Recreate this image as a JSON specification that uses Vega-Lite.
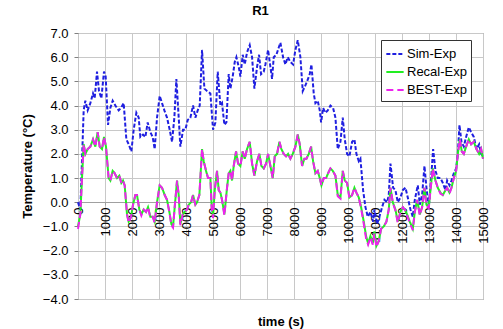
{
"$schema": "https://vega.github.io/schema/vega-lite/v6.json",
"width": 405,
"height": 266,
"autosize": {"type": "none"},
"padding": {"left": 78, "top": 33, "right": 20, "bottom": 30},
"background": "white",
"config": {
  "font": "Liberation Sans",
  "view": {"stroke": "#808080", "strokeWidth": 1},
  "axis": {"labelFont": "Liberation Sans", "titleFont": "Liberation Sans", "labelColor": "#000", "titleColor": "#000", "gridColor": "#c8c8c8", "gridWidth": 1}
},
"title": {"text": "R1", "fontSize": 13, "fontWeight": "bold", "font": "Liberation Sans", "color": "#000", "dx": -20, "offset": 9},
"datasets": {
"sim": [
{"t":0,"v":0.0},{"t":86,"v":-0.3},{"t":210,"v":3.8},{"t":272,"v":4.2},{"t":358,"v":3.8},{"t":457,"v":4.1},{"t":556,"v":4.5},{"t":618,"v":4.3},{"t":704,"v":5.4},{"t":778,"v":4.6},{"t":865,"v":4.3},{"t":963,"v":5.4},{"t":1025,"v":5.2},{"t":1112,"v":3.2},{"t":1198,"v":3.9},{"t":1284,"v":4.2},{"t":1383,"v":4.0},{"t":1507,"v":3.8},{"t":1593,"v":3.9},{"t":1692,"v":4.1},{"t":1791,"v":2.6},{"t":1877,"v":2.4},{"t":1976,"v":2.1},{"t":2062,"v":3.0},{"t":2161,"v":3.7},{"t":2248,"v":3.5},{"t":2309,"v":2.7},{"t":2408,"v":2.8},{"t":2495,"v":2.7},{"t":2581,"v":3.3},{"t":2680,"v":2.9},{"t":2766,"v":2.7},{"t":2840,"v":2.2},{"t":2927,"v":3.5},{"t":3026,"v":4.4},{"t":3112,"v":4.1},{"t":3199,"v":3.8},{"t":3297,"v":3.5},{"t":3396,"v":3.0},{"t":3483,"v":2.5},{"t":3569,"v":3.5},{"t":3643,"v":5.1},{"t":3730,"v":3.5},{"t":3791,"v":2.3},{"t":3890,"v":3.0},{"t":3977,"v":3.0},{"t":4063,"v":3.4},{"t":4162,"v":3.5},{"t":4261,"v":4.0},{"t":4347,"v":3.5},{"t":4434,"v":3.8},{"t":4508,"v":4.0},{"t":4594,"v":6.3},{"t":4681,"v":4.7},{"t":4780,"v":4.6},{"t":4903,"v":4.5},{"t":5002,"v":3.0},{"t":5088,"v":3.3},{"t":5175,"v":5.4},{"t":5273,"v":4.0},{"t":5335,"v":4.1},{"t":5422,"v":3.2},{"t":5496,"v":3.3},{"t":5582,"v":5.3},{"t":5644,"v":4.7},{"t":5730,"v":5.2},{"t":5805,"v":5.8},{"t":5866,"v":6.0},{"t":5953,"v":5.6},{"t":6014,"v":5.2},{"t":6101,"v":6.1},{"t":6175,"v":5.7},{"t":6261,"v":6.2},{"t":6360,"v":6.5},{"t":6447,"v":6.0},{"t":6533,"v":4.7},{"t":6632,"v":5.6},{"t":6706,"v":6.1},{"t":6780,"v":5.3},{"t":6879,"v":5.4},{"t":6941,"v":5.7},{"t":7040,"v":6.3},{"t":7126,"v":5.6},{"t":7188,"v":5.1},{"t":7249,"v":6.0},{"t":7348,"v":6.1},{"t":7435,"v":6.4},{"t":7496,"v":6.6},{"t":7595,"v":6.0},{"t":7682,"v":5.7},{"t":7768,"v":6.0},{"t":7867,"v":5.8},{"t":7966,"v":5.7},{"t":8052,"v":6.3},{"t":8139,"v":6.7},{"t":8237,"v":6.0},{"t":8324,"v":4.6},{"t":8410,"v":4.8},{"t":8484,"v":5.0},{"t":8583,"v":5.3},{"t":8645,"v":5.7},{"t":8731,"v":4.5},{"t":8793,"v":4.1},{"t":8879,"v":4.2},{"t":8954,"v":3.8},{"t":9003,"v":3.3},{"t":9077,"v":3.9},{"t":9164,"v":3.7},{"t":9250,"v":3.8},{"t":9349,"v":4.0},{"t":9448,"v":3.9},{"t":9534,"v":3.5},{"t":9621,"v":2.2},{"t":9720,"v":2.5},{"t":9806,"v":3.5},{"t":9880,"v":2.6},{"t":9966,"v":2.0},{"t":10053,"v":1.9},{"t":10152,"v":2.5},{"t":10238,"v":2.6},{"t":10312,"v":2.0},{"t":10399,"v":1.7},{"t":10460,"v":1.8},{"t":10559,"v":0.5},{"t":10646,"v":-0.2},{"t":10732,"v":-0.6},{"t":10831,"v":-0.4},{"t":10930,"v":-0.8},{"t":10979,"v":-0.3},{"t":11078,"v":-0.9},{"t":11164,"v":-0.6},{"t":11263,"v":-0.2},{"t":11350,"v":0.1},{"t":11449,"v":0.0},{"t":11510,"v":0.3},{"t":11572,"v":1.6},{"t":11671,"v":0.6},{"t":11757,"v":0.5},{"t":11844,"v":0.0},{"t":11942,"v":0.2},{"t":12029,"v":0.5},{"t":12128,"v":0.6},{"t":12214,"v":0.2},{"t":12313,"v":-0.3},{"t":12399,"v":-0.6},{"t":12474,"v":0.1},{"t":12585,"v":0.7},{"t":12659,"v":-0.1},{"t":12745,"v":0.3},{"t":12832,"v":1.5},{"t":12906,"v":0.6},{"t":12992,"v":-0.2},{"t":13079,"v":1.0},{"t":13153,"v":2.2},{"t":13239,"v":1.3},{"t":13326,"v":1.0},{"t":13425,"v":1.0},{"t":13511,"v":0.8},{"t":13610,"v":0.5},{"t":13672,"v":0.9},{"t":13758,"v":0.7},{"t":13832,"v":0.9},{"t":13919,"v":1.2},{"t":14005,"v":1.4},{"t":14067,"v":2.0},{"t":14128,"v":3.2},{"t":14202,"v":2.5},{"t":14289,"v":2.3},{"t":14375,"v":2.7},{"t":14474,"v":3.1},{"t":14560,"v":2.9},{"t":14659,"v":2.7},{"t":14758,"v":2.2},{"t":14857,"v":2.4},{"t":14931,"v":2.0},{"t":15000,"v":1.9}
],
"recal": [
{"t":0,"v":-1.0},{"t":86,"v":-0.5},{"t":148,"v":1.0},{"t":210,"v":2.4},{"t":272,"v":2.0},{"t":358,"v":2.2},{"t":457,"v":2.3},{"t":556,"v":2.6},{"t":642,"v":2.3},{"t":729,"v":2.9},{"t":803,"v":2.3},{"t":889,"v":2.2},{"t":963,"v":2.7},{"t":1037,"v":2.3},{"t":1136,"v":1.0},{"t":1198,"v":0.9},{"t":1284,"v":1.3},{"t":1359,"v":1.2},{"t":1445,"v":1.0},{"t":1531,"v":1.1},{"t":1606,"v":0.8},{"t":1667,"v":0.9},{"t":1729,"v":0.7},{"t":1815,"v":-0.5},{"t":1877,"v":-0.8},{"t":1964,"v":-0.6},{"t":2038,"v":-0.1},{"t":2124,"v":0.3},{"t":2186,"v":0.3},{"t":2272,"v":-0.3},{"t":2347,"v":-0.5},{"t":2433,"v":-0.3},{"t":2519,"v":-0.4},{"t":2594,"v":-0.2},{"t":2680,"v":-0.6},{"t":2766,"v":-0.6},{"t":2840,"v":-0.8},{"t":2927,"v":0.0},{"t":3026,"v":0.7},{"t":3112,"v":0.6},{"t":3211,"v":0.3},{"t":3297,"v":0.1},{"t":3384,"v":-0.4},{"t":3458,"v":-0.9},{"t":3520,"v":-1.0},{"t":3582,"v":-0.2},{"t":3668,"v":0.9},{"t":3730,"v":0.3},{"t":3791,"v":-0.9},{"t":3878,"v":-0.5},{"t":3952,"v":-0.4},{"t":4038,"v":-0.3},{"t":4100,"v":-0.1},{"t":4187,"v":0.0},{"t":4261,"v":0.3},{"t":4347,"v":-0.1},{"t":4409,"v":0.0},{"t":4495,"v":0.3},{"t":4594,"v":2.2},{"t":4656,"v":1.7},{"t":4742,"v":1.3},{"t":4817,"v":1.0},{"t":4903,"v":1.0},{"t":4952,"v":-0.2},{"t":5002,"v":-0.6},{"t":5064,"v":0.5},{"t":5150,"v":1.3},{"t":5212,"v":0.5},{"t":5273,"v":0.4},{"t":5335,"v":0.1},{"t":5422,"v":-0.5},{"t":5520,"v":0.6},{"t":5582,"v":1.2},{"t":5644,"v":1.3},{"t":5706,"v":0.9},{"t":5767,"v":1.5},{"t":5854,"v":2.1},{"t":5928,"v":1.6},{"t":6014,"v":1.5},{"t":6101,"v":2.1},{"t":6175,"v":1.8},{"t":6261,"v":2.2},{"t":6360,"v":2.5},{"t":6447,"v":1.6},{"t":6533,"v":1.1},{"t":6632,"v":1.7},{"t":6718,"v":2.0},{"t":6793,"v":1.5},{"t":6879,"v":1.4},{"t":6965,"v":1.6},{"t":7040,"v":2.0},{"t":7126,"v":1.5},{"t":7212,"v":1.0},{"t":7287,"v":1.9},{"t":7373,"v":2.0},{"t":7459,"v":2.5},{"t":7534,"v":2.2},{"t":7620,"v":2.0},{"t":7706,"v":1.9},{"t":7781,"v":2.0},{"t":7867,"v":1.8},{"t":7953,"v":2.0},{"t":8052,"v":2.3},{"t":8139,"v":2.8},{"t":8213,"v":2.4},{"t":8299,"v":1.5},{"t":8386,"v":1.8},{"t":8460,"v":1.8},{"t":8546,"v":2.0},{"t":8633,"v":2.3},{"t":8707,"v":1.7},{"t":8793,"v":1.2},{"t":8879,"v":1.3},{"t":8954,"v":1.0},{"t":9016,"v":0.7},{"t":9102,"v":1.0},{"t":9188,"v":1.0},{"t":9263,"v":1.2},{"t":9349,"v":1.4},{"t":9435,"v":1.3},{"t":9534,"v":1.1},{"t":9621,"v":0.3},{"t":9720,"v":0.2},{"t":9806,"v":1.3},{"t":9880,"v":0.9},{"t":9966,"v":0.8},{"t":10053,"v":0.2},{"t":10152,"v":0.3},{"t":10238,"v":0.6},{"t":10312,"v":0.4},{"t":10399,"v":0.2},{"t":10485,"v":-0.2},{"t":10584,"v":-0.8},{"t":10670,"v":-1.4},{"t":10745,"v":-1.7},{"t":10831,"v":-1.4},{"t":10917,"v":-1.7},{"t":10979,"v":-1.2},{"t":11053,"v":-1.8},{"t":11140,"v":-1.6},{"t":11226,"v":-1.1},{"t":11325,"v":-1.0},{"t":11424,"v":-0.8},{"t":11510,"v":-0.3},{"t":11572,"v":0.6},{"t":11658,"v":0.0},{"t":11757,"v":-0.3},{"t":11844,"v":-0.8},{"t":11942,"v":-0.4},{"t":12029,"v":-0.2},{"t":12103,"v":-0.3},{"t":12189,"v":-0.5},{"t":12288,"v":-0.8},{"t":12399,"v":-1.1},{"t":12474,"v":-0.4},{"t":12560,"v":0.1},{"t":12659,"v":-0.5},{"t":12745,"v":-0.2},{"t":12832,"v":0.6},{"t":12906,"v":-0.1},{"t":12992,"v":-0.2},{"t":13054,"v":0.5},{"t":13140,"v":1.4},{"t":13239,"v":0.9},{"t":13326,"v":0.6},{"t":13425,"v":0.4},{"t":13511,"v":0.3},{"t":13610,"v":0.5},{"t":13672,"v":0.6},{"t":13758,"v":0.4},{"t":13832,"v":0.6},{"t":13919,"v":1.0},{"t":14005,"v":1.3},{"t":14067,"v":2.0},{"t":14141,"v":2.6},{"t":14215,"v":2.1},{"t":14289,"v":2.0},{"t":14375,"v":2.3},{"t":14474,"v":2.6},{"t":14560,"v":2.4},{"t":14659,"v":2.5},{"t":14758,"v":2.2},{"t":14857,"v":2.0},{"t":14931,"v":2.2},{"t":15000,"v":1.8}
],
"best": [
{"t":0,"v":-1.1},{"t":86,"v":-0.5},{"t":148,"v":1.0},{"t":210,"v":2.4},{"t":272,"v":2.0},{"t":358,"v":2.2},{"t":457,"v":2.3},{"t":556,"v":2.6},{"t":642,"v":2.3},{"t":729,"v":2.9},{"t":803,"v":2.3},{"t":889,"v":2.2},{"t":963,"v":2.7},{"t":1037,"v":2.3},{"t":1136,"v":0.95},{"t":1198,"v":0.9},{"t":1284,"v":1.3},{"t":1359,"v":1.2},{"t":1445,"v":1.0},{"t":1531,"v":1.1},{"t":1606,"v":0.8},{"t":1667,"v":0.9},{"t":1729,"v":0.7},{"t":1815,"v":-0.5},{"t":1877,"v":-0.85},{"t":1964,"v":-0.6},{"t":2038,"v":-0.1},{"t":2124,"v":0.3},{"t":2186,"v":0.3},{"t":2272,"v":-0.3},{"t":2347,"v":-0.55},{"t":2433,"v":-0.3},{"t":2519,"v":-0.4},{"t":2594,"v":-0.2},{"t":2680,"v":-0.65},{"t":2766,"v":-0.6},{"t":2840,"v":-0.85},{"t":2927,"v":0.0},{"t":3026,"v":0.7},{"t":3112,"v":0.6},{"t":3211,"v":0.3},{"t":3297,"v":0.1},{"t":3384,"v":-0.4},{"t":3458,"v":-0.95},{"t":3520,"v":-1.05},{"t":3582,"v":-0.2},{"t":3668,"v":0.9},{"t":3730,"v":0.3},{"t":3791,"v":-0.95},{"t":3878,"v":-0.5},{"t":3952,"v":-0.4},{"t":4038,"v":-0.3},{"t":4100,"v":-0.1},{"t":4187,"v":0.0},{"t":4261,"v":0.3},{"t":4347,"v":-0.1},{"t":4409,"v":0.0},{"t":4495,"v":0.3},{"t":4594,"v":2.2},{"t":4656,"v":1.7},{"t":4742,"v":1.3},{"t":4817,"v":1.0},{"t":4903,"v":1.0},{"t":4952,"v":-0.3},{"t":5002,"v":-0.65},{"t":5064,"v":0.5},{"t":5150,"v":1.3},{"t":5212,"v":0.5},{"t":5273,"v":0.4},{"t":5335,"v":0.1},{"t":5422,"v":-0.55},{"t":5520,"v":0.6},{"t":5582,"v":1.2},{"t":5644,"v":1.3},{"t":5706,"v":0.9},{"t":5767,"v":1.5},{"t":5854,"v":2.1},{"t":5928,"v":1.6},{"t":6014,"v":1.5},{"t":6101,"v":2.1},{"t":6175,"v":1.8},{"t":6261,"v":2.2},{"t":6360,"v":2.5},{"t":6447,"v":1.6},{"t":6533,"v":1.1},{"t":6632,"v":1.7},{"t":6718,"v":2.0},{"t":6793,"v":1.5},{"t":6879,"v":1.4},{"t":6965,"v":1.6},{"t":7040,"v":2.0},{"t":7126,"v":1.5},{"t":7212,"v":1.0},{"t":7287,"v":1.9},{"t":7373,"v":2.0},{"t":7459,"v":2.5},{"t":7534,"v":2.2},{"t":7620,"v":2.0},{"t":7706,"v":1.9},{"t":7781,"v":2.0},{"t":7867,"v":1.8},{"t":7953,"v":2.0},{"t":8052,"v":2.3},{"t":8139,"v":2.8},{"t":8213,"v":2.4},{"t":8299,"v":1.5},{"t":8386,"v":1.8},{"t":8460,"v":1.8},{"t":8546,"v":2.0},{"t":8633,"v":2.3},{"t":8707,"v":1.7},{"t":8793,"v":1.2},{"t":8879,"v":1.3},{"t":8954,"v":1.0},{"t":9016,"v":0.7},{"t":9102,"v":1.0},{"t":9188,"v":1.0},{"t":9263,"v":1.2},{"t":9349,"v":1.4},{"t":9435,"v":1.3},{"t":9534,"v":1.1},{"t":9621,"v":0.25},{"t":9720,"v":0.15},{"t":9806,"v":1.3},{"t":9880,"v":0.9},{"t":9966,"v":0.8},{"t":10053,"v":0.15},{"t":10152,"v":0.3},{"t":10238,"v":0.6},{"t":10312,"v":0.4},{"t":10399,"v":0.2},{"t":10485,"v":-0.25},{"t":10584,"v":-0.9},{"t":10670,"v":-1.5},{"t":10745,"v":-1.75},{"t":10831,"v":-1.45},{"t":10917,"v":-1.75},{"t":10979,"v":-1.3},{"t":11053,"v":-1.85},{"t":11140,"v":-1.6},{"t":11226,"v":-1.1},{"t":11325,"v":-1.0},{"t":11424,"v":-0.8},{"t":11510,"v":-0.3},{"t":11572,"v":0.6},{"t":11658,"v":0.0},{"t":11757,"v":-0.35},{"t":11844,"v":-0.85},{"t":11942,"v":-0.4},{"t":12029,"v":-0.2},{"t":12103,"v":-0.3},{"t":12189,"v":-0.55},{"t":12288,"v":-0.85},{"t":12399,"v":-1.15},{"t":12474,"v":-0.4},{"t":12560,"v":0.1},{"t":12659,"v":-0.55},{"t":12745,"v":-0.2},{"t":12832,"v":0.6},{"t":12906,"v":-0.15},{"t":12992,"v":-0.25},{"t":13054,"v":0.5},{"t":13140,"v":1.4},{"t":13239,"v":0.9},{"t":13326,"v":0.6},{"t":13425,"v":0.35},{"t":13511,"v":0.3},{"t":13610,"v":0.5},{"t":13672,"v":0.6},{"t":13758,"v":0.35},{"t":13832,"v":0.6},{"t":13919,"v":1.0},{"t":14005,"v":1.3},{"t":14067,"v":2.0},{"t":14141,"v":2.6},{"t":14215,"v":2.1},{"t":14289,"v":2.0},{"t":14375,"v":2.3},{"t":14474,"v":2.6},{"t":14560,"v":2.4},{"t":14659,"v":2.5},{"t":14758,"v":2.2},{"t":14857,"v":2.0},{"t":14931,"v":2.2},{"t":15000,"v":1.8}
]
},
"encoding": {
  "x": {"field": "t", "type": "quantitative",
    "scale": {"domain": [0, 15000], "nice": false, "zero": false},
    "axis": {"title": "time (s)", "titleFontSize": 13, "titleFontWeight": "bold", "titleY": 123, "titleBaseline": "alphabetic",
      "offset": -97, "values": [0,1000,2000,3000,4000,5000,6000,7000,8000,9000,10000,11000,12000,13000,14000,15000],
      "format": "d", "labelAngle": 270, "labelFontSize": 13, "labelPadding": 2, "labelOverlap": false, "labelFlush": false,
      "domainColor": "#a0a0a0", "tickColor": "#a0a0a0", "tickSize": 3, "grid": true}},
  "y": {"field": "v", "type": "quantitative",
    "scale": {"domain": [-4, 7], "nice": false, "zero": false},
    "axis": {"title": "Temperature (°C)", "titleFontSize": 13, "titleFontWeight": "bold", "titlePadding": 8,
      "values": [-4,-3,-2,-1,0,1,2,3,4,5,6,7], "format": ".1f", "labelFontSize": 13, "labelPadding": 6,
      "domain": false, "tickColor": "#808080", "tickSize": 4, "grid": true}}
},
"layer": [
  {"data": {"name": "sim"}, "mark": {"type": "line", "strokeWidth": 2},
   "encoding": {"color": {"datum": "Sim-Exp"}, "strokeDash": {"datum": "Sim-Exp"}}},
  {"data": {"name": "recal"}, "mark": {"type": "line", "strokeWidth": 2},
   "encoding": {"color": {"datum": "Recal-Exp"}, "strokeDash": {"datum": "Recal-Exp"}}},
  {"data": {"name": "best"}, "mark": {"type": "line", "strokeWidth": 2},
   "encoding": {"color": {"datum": "BEST-Exp",
      "scale": {"domain": ["Sim-Exp", "Recal-Exp", "BEST-Exp"], "range": ["#1f1fe0", "#22ee22", "#ee22ee"]},
      "legend": {"title": null, "orient": "none", "legendX": 303, "legendY": 7, "strokeColor": "#333", "fillColor": "white", "padding": 4,
        "labelFontSize": 13, "labelFont": "Liberation Sans", "labelColor": "#000", "symbolType": "stroke", "symbolSize": 300, "symbolStrokeWidth": 2, "rowPadding": 1, "labelOffset": 2}},
     "strokeDash": {"datum": "BEST-Exp",
      "scale": {"domain": ["Sim-Exp", "Recal-Exp", "BEST-Exp"], "range": [[4,2],[1,0],[7,4]]},
      "legend": {"title": null}}}}
]
}
